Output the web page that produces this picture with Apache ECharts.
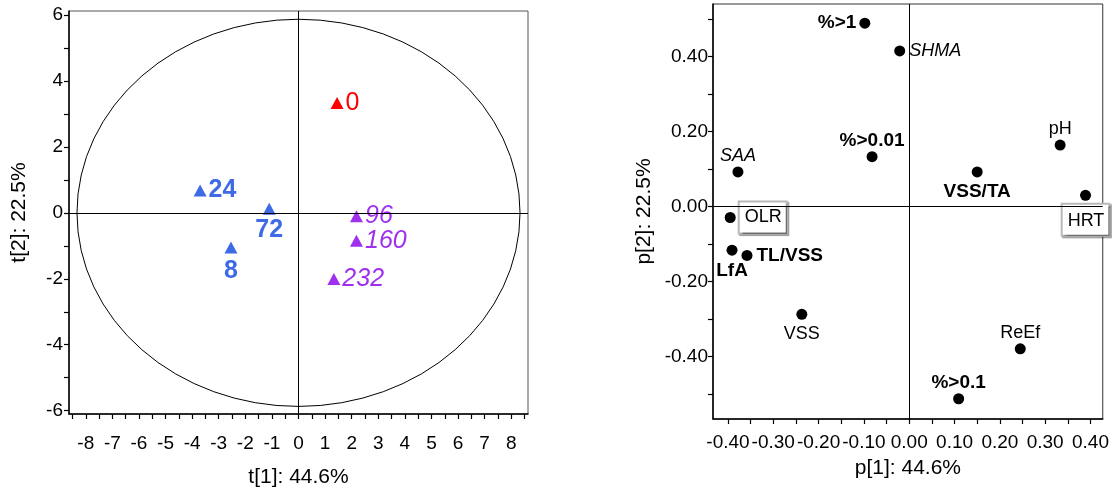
<!DOCTYPE html>
<html>
<head>
<meta charset="utf-8">
<script src="https://cdn.jsdelivr.net/npm/echarts@6/dist/echarts.min.js"></script>
<style>
html,body{margin:0;padding:0;background:#fff;}
#chart{width:1112px;height:493px;}
</style>
</head>
<body>
<div id="chart"></div>
<script>
// ---- Score plot (left) ----
const scoreLabels = ['0', '8', '24', '72', '96', '160', '232'];
const scoreT1 = [1.45, -2.54, -3.70, -1.10, 2.18, 2.18, 1.33];
const scoreT2 = [3.33, -1.05, 0.68, 0.12, -0.10, -0.85, -2.01];
const scoreGroup = ['start', 'early', 'early', 'early', 'late', 'late', 'late'];
const ellipseRadii = [8.33, 5.87]; // Hotelling T2 ellipse half-axes (t1, t2)
const t1TickValues = [-8.5,-8,-7.5,-7,-6.5,-6,-5.5,-5,-4.5,-4,-3.5,-3,-2.5,-2,-1.5,-1,-0.5,0,0.5,1,1.5,2,2.5,3,3.5,4,4.5,5,5.5,6,6.5,7,7.5,8,8.5];
const t1LabelValues = [-8,-7,-6,-5,-4,-3,-2,-1,0,1,2,3,4,5,6,7,8];
const t2TickValues = [-6,-5,-4,-3,-2,-1,0,1,2,3,4,5,6];
const t2LabelValues = [-6,-4,-2,0,2,4,6];
const t1Range = [-8.63, 8.63];
const t2Range = [-6.1, 6.12];

// ---- Loading plot (right) ----
const loadingLabels = ['%>1', 'SHMA', '%>0.01', 'SAA', 'OLR', 'VSS/TA', 'pH', 'HRT', 'LfA', 'TL/VSS', 'VSS', 'ReEf', '%>0.1'];
const loadingP1 = [-0.098, -0.021, -0.082, -0.378, -0.395, 0.150, 0.333, 0.389, -0.391, -0.358, -0.237, 0.245, 0.109];
const loadingP2 = [0.489, 0.415, 0.133, 0.0925, -0.029, 0.0925, 0.164, 0.030, -0.116, -0.130, -0.287, -0.379, -0.512];
const p1TickValues = [-0.40,-0.35,-0.30,-0.25,-0.20,-0.15,-0.10,-0.05,0,0.05,0.10,0.15,0.20,0.25,0.30,0.35,0.40];
const p1LabelValues = [-0.40,-0.30,-0.20,-0.10,0,0.10,0.20,0.30,0.40];
const p2TickValues = [-0.5,-0.4,-0.3,-0.2,-0.1,0,0.1,0.2,0.3,0.4,0.5];
const p2LabelValues = [-0.40,-0.20,0,0.20,0.40];
const p1Range = [-0.433, 0.427];
const p2Range = [-0.566, 0.54];

const axisNames = ['t[1]: 44.6%', 't[2]: 22.5%', 'p[1]: 44.6%', 'p[2]: 22.5%'];

// ---- styling ----
const FONT = '"Liberation Sans", Arial, sans-serif';
const groupColor = {start: '#FF0000', early: '#3F6AE6', late: '#A030F0'};
const groupFont = {
  start: {fontWeight: 'normal', fontStyle: 'normal'},
  early: {fontWeight: 'bold', fontStyle: 'normal'},
  late: {fontWeight: 'normal', fontStyle: 'italic'}
};
const scorePlace = {
  '0': ['right', 2], '8': ['bottom', 5], '24': ['right', 2], '72': ['bottom', 3],
  '96': ['right', 2], '160': ['right', 2], '232': ['right', 2]
};
const loadStyle = {
  '%>1': ['left', 3, 'bold', 'normal'],
  'SHMA': ['right', 4, 'normal', 'italic'],
  '%>0.01': ['top', 1, 'bold', 'normal'],
  'SAA': ['top', 1, 'normal', 'italic'],
  'OLR': ['right', 4, 'normal', 'normal', true],
  'VSS/TA': ['bottom', 5, 'bold', 'normal'],
  'pH': ['top', 2, 'normal', 'normal'],
  'HRT': ['bottom', 4, 'normal', 'normal', true],
  'LfA': ['bottom', 6, 'bold', 'normal'],
  'TL/VSS': ['right', 4, 'bold', 'normal'],
  'VSS': ['bottom', 5, 'normal', 'normal'],
  'ReEf': ['top', 1, 'normal', 'normal'],
  '%>0.1': ['top', 1, 'bold', 'normal']
};

function fmt2(v) {
  const r = Math.round(v * 100) / 100;
  return (Math.abs(r) < 1e-9 ? 0 : r).toFixed(2);
}

const scoreData = scoreLabels.map((name, i) => {
  const g = scoreGroup[i];
  const pl = scorePlace[name];
  return {
    name: name,
    value: [scoreT1[i], scoreT2[i]],
    itemStyle: {color: groupColor[g], opacity: 1},
    label: {
      show: true, formatter: name, position: pl[0], distance: pl[1],
      color: groupColor[g], fontSize: 25, fontFamily: FONT,
      fontWeight: groupFont[g].fontWeight, fontStyle: groupFont[g].fontStyle
    }
  };
});

const loadData = loadingLabels.map((name, i) => {
  const s = loadStyle[name];
  const lab = {
    show: true, formatter: name, position: s[0], distance: s[1],
    color: '#000', fontSize: s[2] === 'bold' ? 19 : 18, fontFamily: FONT,
    fontWeight: s[2], fontStyle: s[3]
  };
  if (s[4]) {
    Object.assign(lab, {
      backgroundColor: '#fff', borderColor: '#b8b8b8', borderWidth: 2,
      padding: [7, 4, 5, 5], shadowColor: 'rgba(0,0,0,0.4)',
      shadowOffsetX: 1.5, shadowOffsetY: 1.5, shadowBlur: 1
    });
  }
  return {name: name, value: [loadingP1[i], loadingP2[i]], label: lab};
});

const zeroLines = {
  silent: true, symbol: ['none', 'none'],
  label: {show: false},
  lineStyle: {color: '#000', width: 1, type: 'solid', opacity: 1},
  emphasis: {disabled: true},
  animation: false,
  data: [{xAxis: 0}, {yAxis: 0}]
};

function axisCommon(tickVals, labelVals, formatter, margin) {
  return {
    type: 'value',
    axisLine: {show: true, onZero: false, lineStyle: {color: '#000', width: 1.5}},
    axisTick: {show: true, length: 5, customValues: tickVals, lineStyle: {color: '#000', width: 1.2}},
    axisLabel: {show: true, customValues: labelVals, formatter: formatter, margin: margin,
      color: '#000', fontSize: 19, fontFamily: FONT},
    splitLine: {show: false},
    nameTextStyle: {color: '#000', fontSize: 21, fontFamily: FONT},
    nameLocation: 'middle'
  };
}

const option = {
  animation: false,
  backgroundColor: '#fff',
  grid: [
    {left: 69, top: 11, width: 459, height: 403, show: true, borderColor: '#555', borderWidth: 1, backgroundColor: 'transparent'},
    {left: 713, top: 4, width: 390, height: 415, show: true, borderColor: '#333', borderWidth: 1, backgroundColor: 'transparent'}
  ],
  xAxis: [
    Object.assign(axisCommon(t1TickValues, t1LabelValues, v => String(Math.round(v)), 20), {
      gridIndex: 0, min: t1Range[0], max: t1Range[1], name: axisNames[0], nameGap: 53
    }),
    Object.assign(axisCommon(p1TickValues, p1LabelValues, fmt2, 14), {
      gridIndex: 1, min: p1Range[0], max: p1Range[1], name: axisNames[2], nameGap: 39
    })
  ],
  yAxis: [
    Object.assign(axisCommon(t2TickValues, t2LabelValues, v => String(Math.round(v)), 6), {
      gridIndex: 0, min: t2Range[0], max: t2Range[1], name: axisNames[1], nameGap: 39
    }),
    Object.assign(axisCommon(p2TickValues, p2LabelValues, fmt2, 5), {
      gridIndex: 1, min: p2Range[0], max: p2Range[1], name: axisNames[3], nameGap: 58
    })
  ],
  series: [
    {
      type: 'custom', xAxisIndex: 0, yAxisIndex: 0, silent: true, z: 1,
      data: [[0, 0, ellipseRadii[0], ellipseRadii[1]]],
      renderItem: function (params, api) {
        const c = api.coord([api.value(0), api.value(1)]);
        const sz = api.size([api.value(2), api.value(3)]);
        const a = sz[0], b = sz[1];
        const d = 'M ' + (c[0] - a) + ' ' + c[1] +
          ' A ' + a + ' ' + b + ' 0 1 0 ' + (c[0] + a) + ' ' + c[1] +
          ' A ' + a + ' ' + b + ' 0 1 0 ' + (c[0] - a) + ' ' + c[1] + ' Z';
        return {type: 'path', shape: {pathData: d}, style: {stroke: '#000', fill: 'none', lineWidth: 1}};
      }
    },
    {
      type: 'scatter', xAxisIndex: 0, yAxisIndex: 0, z: 3,
      symbol: 'triangle', symbolSize: [13, 12],
      itemStyle: {opacity: 1},
      data: scoreData,
      markLine: zeroLines
    },
    {
      type: 'scatter', xAxisIndex: 1, yAxisIndex: 1, z: 3,
      symbol: 'circle', symbolSize: 11,
      itemStyle: {color: '#000', opacity: 1},
      data: loadData,
      markLine: zeroLines
    }
  ]
};

const chart = echarts.init(document.getElementById('chart'), null, {renderer: 'canvas'});
chart.setOption(option);
</script>
</body>
</html>
